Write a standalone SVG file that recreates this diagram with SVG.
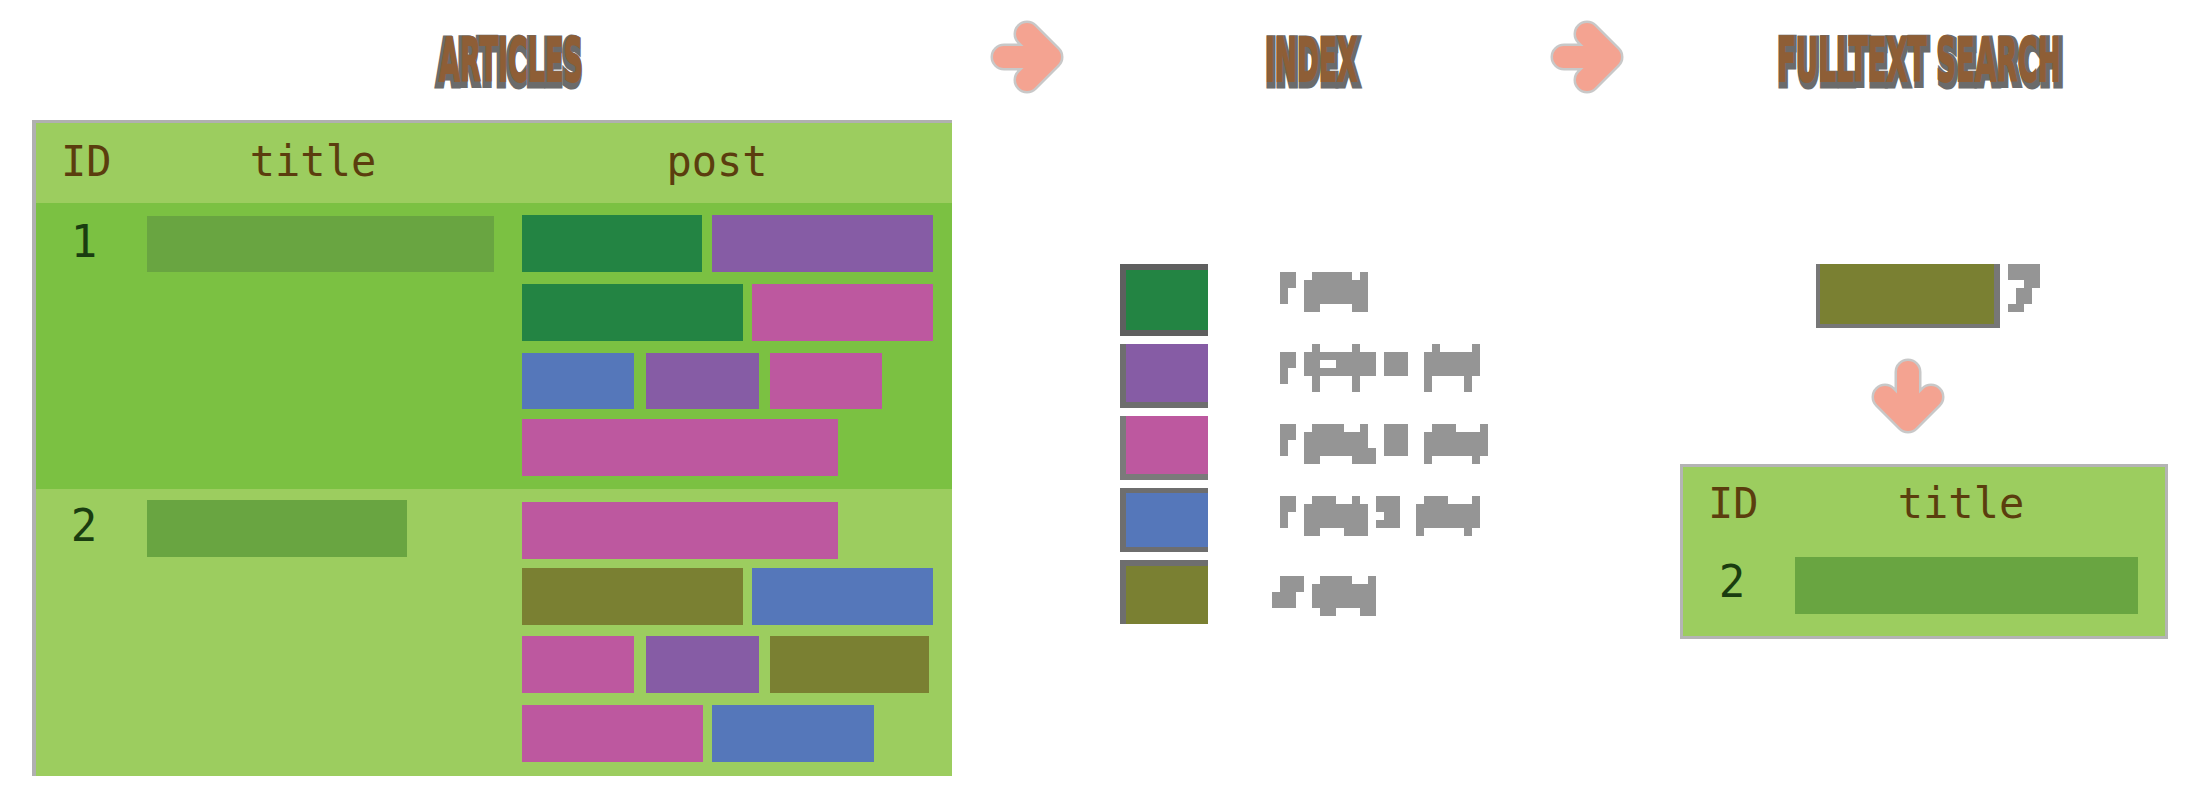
<svg xmlns="http://www.w3.org/2000/svg" width="2196" height="811" viewBox="0 0 2196 811">
<style>
.hdr{font-family:"DejaVu Sans Mono","Liberation Mono",monospace;font-size:42px;fill:#5b3d0e}
.num{font-family:"DejaVu Sans Mono","Liberation Mono",monospace;font-size:44px;fill:#1a3d10}
.ttl{font-family:"DejaVu Sans","Liberation Sans",sans-serif;font-weight:bold;font-size:60px}
.ttl-sh{fill:#6b6b6b;stroke:#6b6b6b;stroke-width:9;stroke-linejoin:miter}
.ttl-fg{fill:#8e5e36;stroke:#8e5e36;stroke-width:2}
.lg{fill:#959595}
.g{fill:#238443}.p{fill:#865ca5}.k{fill:#bd589f}.b{fill:#5577ba}.o{fill:#7a8032}
.tb{fill:#69a541}
.arr-bg{fill:none;stroke:#c8c8c8;stroke-width:27;stroke-linecap:round;stroke-linejoin:round}
.arr{fill:none;stroke:#f4a391;stroke-width:22;stroke-linecap:round;stroke-linejoin:round}
</style>
<rect width="2196" height="811" fill="#ffffff"/>

<g id="title-articles">
<text class="ttl ttl-sh" transform="translate(437 84) scale(0.45 1)" x="0" y="0" textLength="322" lengthAdjust="spacingAndGlyphs">ARTICLES</text>
<text class="ttl ttl-fg" transform="translate(439 81) scale(0.45 1)" x="0" y="0" textLength="320" lengthAdjust="spacingAndGlyphs">ARTICLES</text>
</g>
<g id="title-index">
<text class="ttl ttl-sh" transform="translate(1266 84) scale(0.45 1)" x="0" y="0" textLength="207" lengthAdjust="spacingAndGlyphs">INDEX</text>
<text class="ttl ttl-fg" transform="translate(1265 81) scale(0.45 1)" x="0" y="0" textLength="205" lengthAdjust="spacingAndGlyphs">INDEX</text>
</g>
<g id="title-search">
<text class="ttl ttl-sh" transform="translate(1778 84) scale(0.45 1)" x="0" y="0" textLength="634" lengthAdjust="spacingAndGlyphs">FULLTEXT SEARCH</text>
<text class="ttl ttl-fg" transform="translate(1777 81) scale(0.45 1)" x="0" y="0" textLength="630" lengthAdjust="spacingAndGlyphs">FULLTEXT SEARCH</text>
</g>

<g id="connectors">
<path class="arr-bg" d="M1004 57 H1050 M1027 34 L1050 57 L1027 80"/>
<path class="arr" d="M1004 57 H1050 M1027 34 L1050 57 L1027 80"/>
<path class="arr-bg" d="M1564 57 H1610 M1587 34 L1610 57 L1587 80"/>
<path class="arr" d="M1564 57 H1610 M1587 34 L1610 57 L1587 80"/>
<path class="arr-bg" d="M1908 372 V420 M1885 397 L1908 420 L1931 397"/>
<path class="arr" d="M1908 372 V420 M1885 397 L1908 420 L1931 397"/>
</g>

<g id="articles-table">
<rect x="32" y="120" width="920" height="656" fill="#b0b0b0"/>
<rect x="36" y="123" width="916" height="653" fill="#9ccd5f"/>
<rect x="36" y="203" width="916" height="286" fill="#7bc142"/>
<text class="hdr" x="61" y="176">ID</text>
<text class="hdr" x="313" y="176" text-anchor="middle">title</text>
<text class="hdr" x="717" y="176" text-anchor="middle">post</text>
</g>

<g id="row-1">
<text class="num" x="84" y="257" text-anchor="middle">1</text>
<rect class="tb" x="147" y="216" width="347" height="56"/>
<rect class="g" x="522" y="215" width="180" height="57"/>
<rect class="p" x="712" y="215" width="221" height="57"/>
<rect class="g" x="522" y="284" width="221" height="57"/>
<rect class="k" x="752" y="284" width="181" height="57"/>
<rect class="b" x="522" y="353" width="112" height="56"/>
<rect class="p" x="646" y="353" width="113" height="56"/>
<rect class="k" x="770" y="353" width="112" height="56"/>
<rect class="k" x="522" y="419" width="316" height="57"/>
</g>

<g id="row-2">
<text class="num" x="84" y="541" text-anchor="middle">2</text>
<rect class="tb" x="147" y="500" width="260" height="57"/>
<rect class="k" x="522" y="502" width="316" height="57"/>
<rect class="o" x="522" y="568" width="221" height="57"/>
<rect class="b" x="752" y="568" width="181" height="57"/>
<rect class="k" x="522" y="636" width="112" height="57"/>
<rect class="p" x="646" y="636" width="113" height="57"/>
<rect class="o" x="770" y="636" width="159" height="57"/>
<rect class="k" x="522" y="705" width="181" height="57"/>
<rect class="b" x="712" y="705" width="162" height="57"/>
</g>

<g id="index-legend">
<g id="legend-1">
<rect x="1120" y="264" width="88" height="72" fill="#5f5f5f"/>
<rect class="g" x="1126" y="270" width="82" height="60"/>
<rect class="lg" x="1280" y="272" width="16" height="16"/><rect class="lg" x="1280" y="288" width="8" height="16"/>
<rect class="lg" x="1312" y="272" width="40" height="8"/><rect class="lg" x="1360" y="272" width="8" height="8"/>
<rect class="lg" x="1304" y="280" width="64" height="24"/>
<rect class="lg" x="1304" y="304" width="16" height="8"/><rect class="lg" x="1352" y="304" width="16" height="8"/>
</g>
<g id="legend-2">
<rect x="1120" y="344" width="88" height="64" fill="#6e6e6e"/>
<rect class="p" x="1126" y="344" width="82" height="58"/>
<rect class="lg" x="1280" y="352" width="16" height="16"/><rect class="lg" x="1280" y="368" width="8" height="16"/>
<rect class="lg" x="1312" y="344" width="8" height="8"/><rect class="lg" x="1352" y="344" width="8" height="8"/>
<rect class="lg" x="1304" y="352" width="72" height="24"/>
<rect x="1320" y="360" width="16" height="8" fill="#ffffff"/>
<rect class="lg" x="1312" y="376" width="8" height="16"/><rect class="lg" x="1352" y="376" width="8" height="16"/>
<rect class="lg" x="1384" y="352" width="24" height="24"/>
<rect class="lg" x="1432" y="344" width="8" height="8"/><rect class="lg" x="1472" y="344" width="8" height="8"/>
<rect class="lg" x="1424" y="352" width="56" height="24"/>
<rect class="lg" x="1424" y="376" width="8" height="16"/><rect class="lg" x="1464" y="376" width="8" height="16"/>
</g>
<g id="legend-3">
<rect x="1120" y="416" width="88" height="64" fill="#7a7a7a"/>
<rect class="k" x="1126" y="416" width="82" height="58"/>
<rect class="lg" x="1280" y="424" width="16" height="16"/><rect class="lg" x="1280" y="440" width="8" height="16"/>
<rect class="lg" x="1312" y="424" width="32" height="8"/><rect class="lg" x="1360" y="424" width="8" height="8"/>
<rect class="lg" x="1304" y="432" width="64" height="24"/>
<rect class="lg" x="1304" y="456" width="16" height="8"/><rect class="lg" x="1352" y="448" width="24" height="16"/>
<rect class="lg" x="1384" y="424" width="24" height="32"/>
<rect class="lg" x="1432" y="424" width="24" height="8"/><rect class="lg" x="1480" y="424" width="8" height="8"/>
<rect class="lg" x="1424" y="432" width="64" height="24"/>
<rect class="lg" x="1424" y="456" width="8" height="8"/><rect class="lg" x="1472" y="456" width="8" height="8"/>
</g>
<g id="legend-4">
<rect x="1120" y="488" width="88" height="64" fill="#6e6e6e"/>
<rect class="b" x="1126" y="493" width="82" height="54"/>
<rect class="lg" x="1280" y="496" width="16" height="16"/><rect class="lg" x="1280" y="512" width="8" height="16"/>
<rect class="lg" x="1312" y="496" width="24" height="8"/><rect class="lg" x="1352" y="496" width="8" height="8"/>
<rect class="lg" x="1304" y="504" width="64" height="24"/>
<rect class="lg" x="1304" y="528" width="16" height="8"/><rect class="lg" x="1344" y="520" width="24" height="16"/>
<rect class="lg" x="1376" y="496" width="24" height="32"/>
<rect x="1376" y="512" width="8" height="8" fill="#ffffff"/>
<rect class="lg" x="1424" y="496" width="24" height="8"/><rect class="lg" x="1472" y="496" width="8" height="8"/>
<rect class="lg" x="1416" y="504" width="64" height="24"/>
<rect class="lg" x="1416" y="528" width="8" height="8"/><rect class="lg" x="1464" y="528" width="8" height="8"/>
</g>
<g id="legend-5">
<rect x="1120" y="560" width="88" height="64" fill="#6e6e6e"/>
<rect class="o" x="1126" y="566" width="82" height="58"/>
<rect class="lg" x="1280" y="576" width="24" height="16"/><rect class="lg" x="1272" y="592" width="24" height="16"/>
<rect class="lg" x="1320" y="576" width="32" height="8"/><rect class="lg" x="1368" y="576" width="8" height="8"/>
<rect class="lg" x="1312" y="584" width="64" height="24"/>
<rect class="lg" x="1320" y="608" width="16" height="8"/><rect class="lg" x="1360" y="608" width="16" height="8"/>
</g>
</g>

<g id="search-term">
<rect x="1816" y="264" width="184" height="64" fill="#777777"/>
<rect class="o" x="1820" y="264" width="174" height="60"/>
<rect class="lg" x="2008" y="264" width="32" height="16"/>
<rect class="lg" x="2024" y="280" width="16" height="8"/>
<rect class="lg" x="2016" y="288" width="16" height="16"/>
<rect class="lg" x="2008" y="304" width="16" height="8"/>
</g>

<g id="result-table">
<rect x="1680" y="464" width="488" height="175" fill="#b4b4b4"/>
<rect x="1683" y="467" width="482" height="169" fill="#9ccd5f"/>
<text class="hdr" x="1708" y="518">ID</text>
<text class="hdr" x="1961" y="518" text-anchor="middle">title</text>
<text class="num" x="1732" y="597" text-anchor="middle">2</text>
<rect class="tb" x="1795" y="557" width="343" height="57"/>
</g>
</svg>
